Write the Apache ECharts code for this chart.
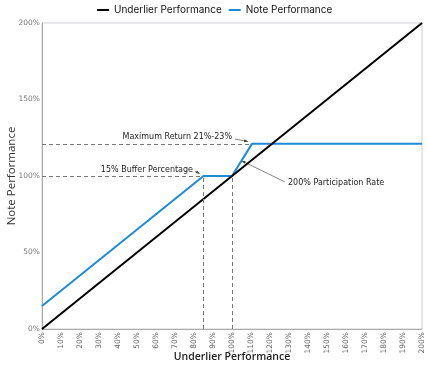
<!DOCTYPE html>
<html><head><meta charset="utf-8">
<script src="https://cdn.jsdelivr.net/npm/echarts@6/dist/echarts.min.js"></script>
<style>html,body{margin:0;padding:0;background:#fff}#c{width:428px;height:365px}</style>
</head><body><div id="c"></div>
<script>
const underlierX = [0, 200];
const underlierY = [0, 200];
const noteX = [0, 85, 100, 110.5, 200];
const noteY = [15, 100, 100, 121, 121];
const bufferLevel = 85;
const capLevel = 121;
const xTicks = {min: 0, max: 200, interval: 10};
const yTicks = {min: 0, max: 200, interval: 50};

const chart = echarts.init(document.getElementById('c'));
const dashStyle = {color: '#777', type: [4, 3], width: 1};
const option = {
  animation: false,
  legend: {
    top: 0, left: 92, itemWidth: 12, itemHeight: 2, itemGap: 7,
    textStyle: {fontFamily: 'Inter', fontSize: 10, color: '#111'},
    data: [{name: 'Underlier Performance', icon: 'rect'}, {name: 'Note Performance', icon: 'rect'}]
  },
  grid: {left: 42, right: 6, top: 23, bottom: 36, containLabel: false, outerBoundsMode: 'none',
         show: true, borderColor: '#cfcfd8', borderWidth: 1},
  xAxis: {
    type: 'value', min: xTicks.min, max: xTicks.max, interval: xTicks.interval,
    name: 'Underlier Performance', nameLocation: 'middle', nameGap: 23, nameMoveOverlap: false,
    nameTextStyle: {fontFamily: 'Open Sans', fontWeight: 600, fontSize: 10.5, color: '#222'},
    axisLine: {lineStyle: {color: '#aaa'}}, axisTick: {show: false}, splitLine: {show: false},
    axisLabel: {rotate: 90, fontSize: 7.5, fontFamily: 'DejaVu Sans', color: '#666', margin: 3, formatter: v => v + '%'}
  },
  yAxis: {
    type: 'value', min: yTicks.min, max: yTicks.max, interval: yTicks.interval,
    name: 'Note Performance', nameLocation: 'middle', nameGap: 24, nameMoveOverlap: false,
    nameTextStyle: {fontFamily: 'Open Sans', fontSize: 11.5, color: '#333'},
    axisLine: {show: true, lineStyle: {color: '#aaa'}}, axisTick: {show: false}, splitLine: {show: false},
    axisLabel: {fontSize: 7.5, fontFamily: 'DejaVu Sans', color: '#777', margin: 2, formatter: v => v + '%'}
  },
  series: [
    {name: 'Underlier Performance', type: 'line', symbol: 'none', color: '#000',
     lineStyle: {width: 2, color: '#000'}, z: 3,
     data: underlierX.map((x, i) => [x, underlierY[i]])},
    {name: 'Note Performance', type: 'line', symbol: 'none', color: '#1c8ad6',
     lineStyle: {width: 2, color: '#1c8ad6'}, z: 2,
     data: noteX.map((x, i) => [x, noteY[i]]),
     markLine: {
       silent: true, symbol: 'none', label: {show: false}, lineStyle: dashStyle,
       data: [
         [{coord: [0, 100]}, {coord: [bufferLevel, 100]}],
         [{coord: [0, capLevel]}, {coord: [noteX[3], capLevel]}],
         [{coord: [bufferLevel, 0]}, {coord: [bufferLevel, 100]}],
         [{coord: [100, 0]}, {coord: [100, 100]}]
       ]
     }}
  ]
};
chart.setOption(option);

function px(x, y) { return chart.convertToPixel({gridIndex: 0}, [x, y]); }
const annots = [
  {text: 'Maximum Return 21%-23%', tx: 232, ty: 137, align: 'right', from: [235, 139], to: px(108.5, 122.5)},
  {text: '15% Buffer Percentage', tx: 193, ty: 170, align: 'right', from: [195, 171], to: px(83, 101.5)},
  {text: '200% Participation Rate', tx: 288, ty: 183, align: 'left', from: [285, 182], to: px(105, 110)}
];
const g = [];
annots.forEach(a => {
  g.push({type: 'text', x: a.tx, y: a.ty, style: {text: a.text, fontFamily: 'DejaVu Sans', fontSize: 8, fill: '#222', align: a.align, verticalAlign: 'middle'}});
  const dx = a.to[0] - a.from[0], dy = a.to[1] - a.from[1];
  const L = Math.hypot(dx, dy), ux = dx / L, uy = dy / L;
  g.push({type: 'line', shape: {x1: a.from[0], y1: a.from[1], x2: a.to[0], y2: a.to[1]}, style: {stroke: '#666', lineWidth: 0.8}});
  const bx = a.to[0] - ux * 4, by = a.to[1] - uy * 4;
  g.push({type: 'polygon', shape: {points: [a.to, [bx - uy * 1.5, by + ux * 1.5], [bx + uy * 1.5, by - ux * 1.5]]}, style: {fill: '#444'}});
});
chart.setOption({graphic: g});
</script></body></html>
